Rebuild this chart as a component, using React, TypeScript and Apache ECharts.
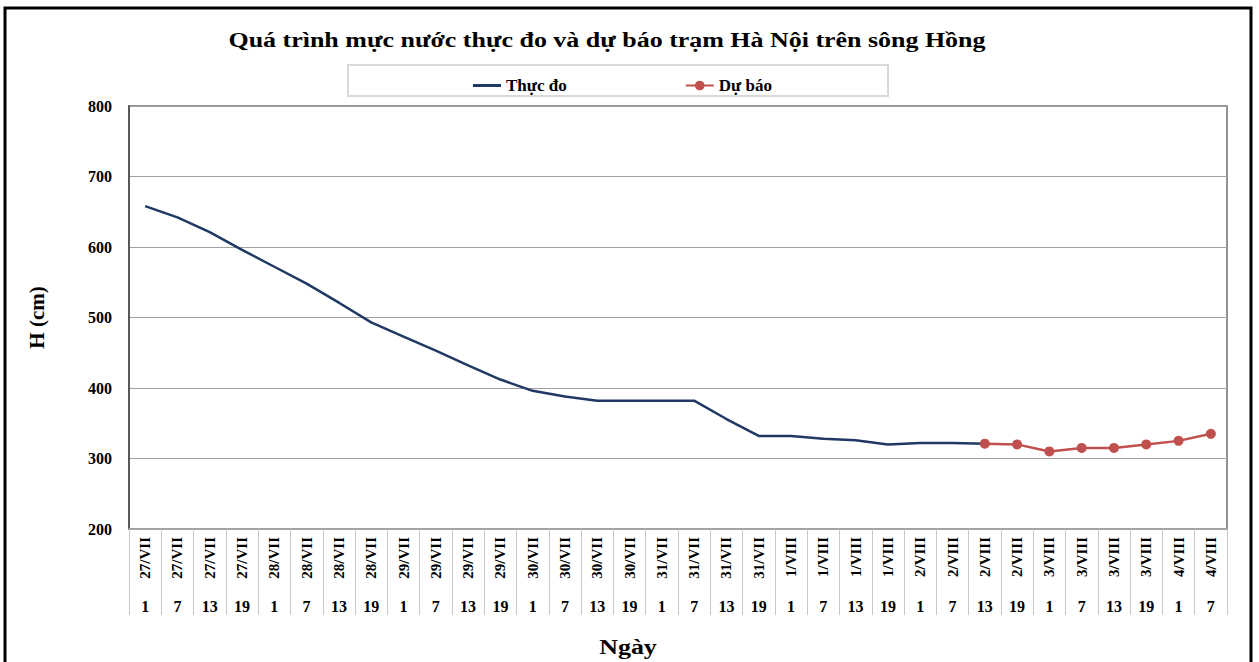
import React, { useEffect, useRef } from "react";
import * as echarts from "echarts";

const dateLabels = [
  "27/VII", "27/VII", "27/VII", "27/VII",
  "28/VII", "28/VII", "28/VII", "28/VII",
  "29/VII", "29/VII", "29/VII", "29/VII",
  "30/VII", "30/VII", "30/VII", "30/VII",
  "31/VII", "31/VII", "31/VII", "31/VII",
  "1/VIII", "1/VIII", "1/VIII", "1/VIII",
  "2/VIII", "2/VIII", "2/VIII", "2/VIII",
  "3/VIII", "3/VIII", "3/VIII", "3/VIII",
  "4/VIII", "4/VIII",
];
const hourLabels = [
  "1", "7", "13", "19", "1", "7", "13", "19", "1", "7", "13", "19",
  "1", "7", "13", "19", "1", "7", "13", "19", "1", "7", "13", "19",
  "1", "7", "13", "19", "1", "7", "13", "19", "1", "7",
];
const observed = [
  658, 642, 621, 596, 572, 548, 521, 493, 473, 453, 432, 412,
  396, 388, 382, 382, 382, 382, 356, 332, 332, 328, 326, 320,
  322, 322, 321,
];
const forecastStartIndex = 26;
const forecastValues = [321, 320, 310, 315, 315, 320, 325, 335];
const yTicks = { min: 200, max: 800, interval: 100 };

const titleText = "Quá trình mực nước thực đo và dự báo trạm Hà Nội trên sông Hồng";
const xAxisTitle = "Ngày";
const yAxisTitle = "H (cm)";

const FONT = "'Liberation Serif', 'Times New Roman', serif";

export default function App() {
  const ref = useRef<HTMLDivElement>(null);
  useEffect(() => {
    if (!ref.current) return;
    const chart = echarts.init(ref.current, null, { renderer: "svg" });
    const categories = dateLabels.map((d, i) => d + " " + hourLabels[i]);
    const forecast = categories.map((_, i) =>
      i >= forecastStartIndex ? forecastValues[i - forecastStartIndex] : "-"
    );
    const obs = categories.map((_, i) => (i < observed.length ? observed[i] : "-"));
    chart.setOption({
      animation: false,
      backgroundColor: "#ffffff",
      textStyle: { fontFamily: FONT },
      legend: {
        left: 468,
        top: 72,
        itemGap: 118,
        itemWidth: 28,
        itemHeight: 12,
        textStyle: { fontFamily: FONT, fontWeight: "bold", fontSize: 17, color: "#000" },
        data: [
          { name: "Thực đo", icon: "path://M0,0 L28,0 L28,3 L0,3 Z" },
          { name: "Dự báo" },
        ],
      },
      graphic: [
        {
          type: "rect",
          shape: { x: 5, y: 8, width: 1246, height: 670 },
          style: { fill: "none", stroke: "#000", lineWidth: 3 },
          silent: true,
        },
        {
          type: "rect",
          shape: { x: 348, y: 65, width: 540, height: 31 },
          style: { fill: "none", stroke: "#d9d9d9", lineWidth: 2 },
          silent: true,
        },
        {
          type: "text",
          x: 607,
          y: 40,
          scaleX: 1.18,
          silent: true,
          style: {
            text: titleText,
            fill: "#000",
            font: "bold 22px " + FONT,
            textAlign: "center",
            textVerticalAlign: "middle",
          },
        },
        {
          type: "text",
          x: 628,
          y: 647,
          scaleX: 1.18,
          silent: true,
          style: {
            text: xAxisTitle,
            fill: "#000",
            font: "bold 22px " + FONT,
            textAlign: "center",
            textVerticalAlign: "middle",
          },
        },
      ],
      grid: {
        left: 129,
        right: 32,
        top: 106,
        bottom: 133,
        show: true,
        borderColor: "#707070",
        borderWidth: 1.5,
        containLabel: false,
      },
      xAxis: [
        {
          type: "category",
          data: categories,
          boundaryGap: true,
          position: "bottom",
          axisLine: { lineStyle: { color: "#a6a6a6", width: 1.5 } },
          axisTick: { show: true, interval: 0, length: 86, lineStyle: { color: "#c8c8c8", width: 1 } },
          axisLabel: {
            interval: 0,
            rotate: 90,
            margin: 8,
            formatter: (_v: string, i: number) => dateLabels[i],
            fontFamily: FONT,
            fontWeight: "bold",
            fontSize: 15,
            color: "#000",
          },
        },
        {
          type: "category",
          data: categories,
          boundaryGap: true,
          position: "bottom",
          axisLine: { show: false },
          axisTick: { show: false },
          axisLabel: {
            interval: 0,
            margin: 69,
            formatter: (_v: string, i: number) => hourLabels[i],
            fontFamily: FONT,
            fontWeight: "bold",
            fontSize: 16,
            color: "#000",
          },
        },
      ],
      yAxis: {
        type: "value",
        min: yTicks.min,
        max: yTicks.max,
        interval: yTicks.interval,
        name: yAxisTitle,
        nameLocation: "middle",
        nameGap: 82,
        nameRotate: 90,
        nameTextStyle: { fontFamily: FONT, fontWeight: "bold", fontSize: 21, color: "#000" },
        axisLine: { show: true, lineStyle: { color: "#595959", width: 2 } },
        axisTick: { show: false },
        axisLabel: {
          margin: 17,
          fontFamily: FONT,
          fontWeight: "bold",
          fontSize: 16,
          color: "#000",
        },
        splitLine: { show: true, lineStyle: { color: "#a0a0a0", width: 1 } },
      },
      series: [
        {
          name: "Thực đo",
          type: "line",
          data: obs,
          showSymbol: false,
          symbol: "none",
          lineStyle: { color: "#1f3864", width: 2.5 },
          itemStyle: { color: "#1f3864" },
        },
        {
          name: "Dự báo",
          type: "line",
          data: forecast,
          symbol: "circle",
          symbolSize: 10,
          lineStyle: { color: "#c0504d", width: 2.5 },
          itemStyle: { color: "#c0504d" },
        },
      ],
    });
    return () => chart.dispose();
  }, []);
  return (
    <div
      ref={ref}
      style={{ position: "fixed", left: 0, top: 0, width: 1259, height: 662 }}
    />
  );
}
